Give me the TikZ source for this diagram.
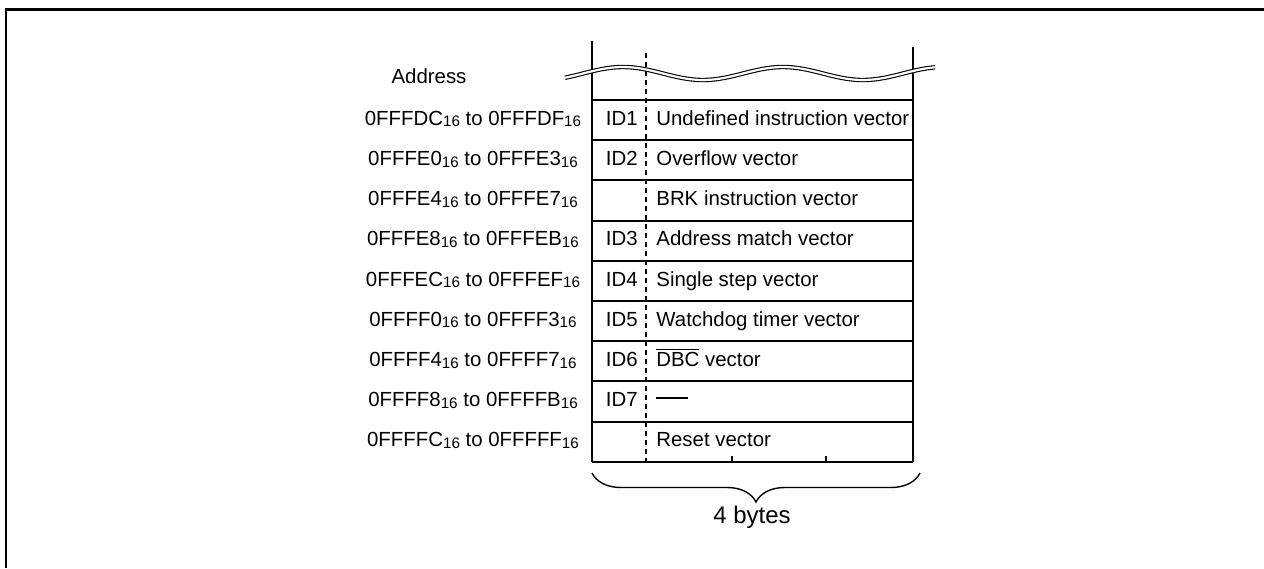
\documentclass[tikz,border=0pt]{standalone}
\usepackage{fontspec}
\setmainfont{Liberation Sans}
\usetikzlibrary{decorations.pathreplacing}
\newcommand{\hexsub}[1]{#1\raisebox{-0.8pt}{\fontsize{7.6}{8}\selectfont 16}}
\newcommand{\dbcbar}{$\overline{\mbox{DBC}}$}
\newcommand{\nodash}{\rule[4pt]{16pt}{0.6pt}}

\begin{document}
\begin{tikzpicture}[x=0.5pt, y=-0.5pt, font=\fontsize{10.2}{12}\selectfont,
  rowline/.style={line width=1pt},
  sideline/.style={line width=1.2pt},
  addrlabel/.style={anchor=base, inner sep=0pt},
  idlabel/.style={anchor=base east, inner sep=0pt},
  veclabel/.style={anchor=base west, inner sep=0pt}]
\useasboundingbox (0,0) rectangle (1264,568);
% Outer frame (cut off at right and bottom)
\draw[line width=1.25pt] (6,568) -- (6,9.5) -- (1264,9.5);
% Table sides and byte divider
\draw[sideline] (592,41) -- (592,462);
\draw[sideline] (913,47) -- (913,462);
\draw[line width=0.7pt, dash pattern=on 2.5pt off 2pt] (646,53) -- (646,462);
% Row lines
\foreach \i in {0,...,8} {
  \draw[rowline] (592,100+40.2*\i) -- (913,100+40.2*\i);
}
\draw[line width=1.4pt] (592,462) -- (913,462);
% Byte ticks
\foreach \x in {732,826} \draw[rowline] (\x,462) -- (\x,456);
% Break mark
\draw[line width=0.55pt, double=white, double distance=1.1pt]
  plot[domain=565:935, samples=80] (\x, {73.5-6.5*sin((\x-583)*2.25)});
% Address labels
\node[addrlabel] (addr) at (429,83) {Address};
\foreach \r/\lo/\hi in {1/DC/DF, 2/E0/E3, 3/E4/E7, 4/E8/EB, 5/EC/EF, 6/F0/F3, 7/F4/F7, 8/F8/FB, 9/FC/FF} {
  \node[addrlabel] (a\r) at (473, 85+40.2*\r) {\hexsub{0FFF\lo} to \hexsub{0FFF\hi}};
}
% Vector table entries
\foreach \r/\idn/\vtxt in {1/ID1/Undefined instruction vector, 2/ID2/Overflow vector,
    3//BRK instruction vector, 4/ID3/Address match vector, 5/ID4/Single step vector,
    6/ID5/Watchdog timer vector, 7/ID6/\dbcbar{} vector, 8/ID7/\nodash, 9//Reset vector} {
  \node[idlabel] (id\r) at (638, 85+40.2*\r) {\idn};
  \node[veclabel] (v\r) at (656, 85+40.2*\r) {\vtxt};
}
% Width brace
\coordinate (bl) at (592,473);
\coordinate (br) at (920,473);
\draw[line width=0.7pt, decorate, decoration={brace, amplitude=14.5pt}] (br) -- (bl);
\node[font=\fontsize{12}{14}\selectfont] (bytes) at (752,517) {4 bytes};
\end{tikzpicture}
\end{document}
